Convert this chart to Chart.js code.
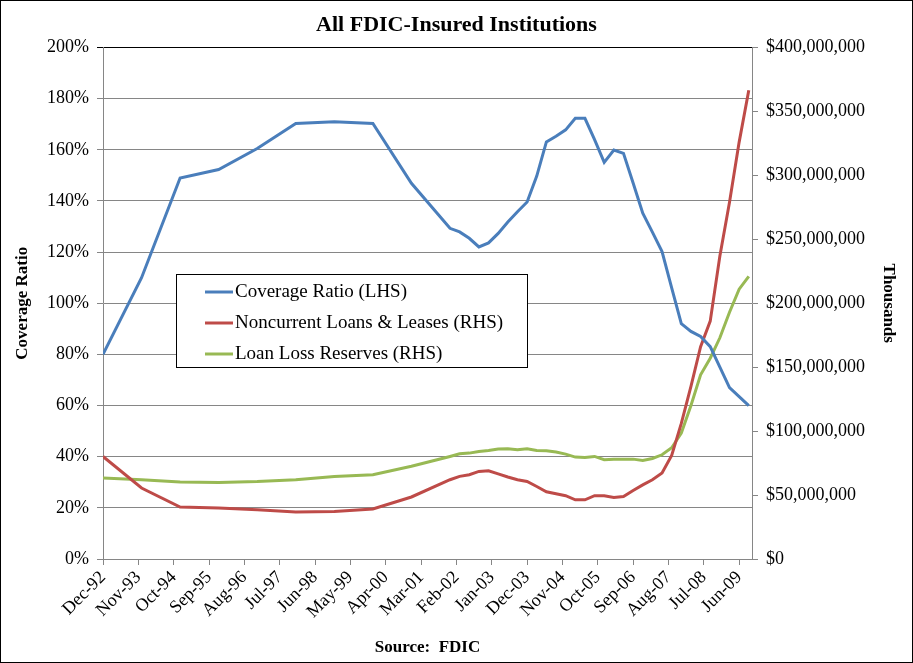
<!DOCTYPE html>
<html lang="en">
<head>
<meta charset="UTF-8">
<title>All FDIC-Insured Institutions</title>
<script src="https://cdn.jsdelivr.net/npm/chart.js"></script>
<style>
  body { margin: 0; background: #fff; }
  #wrap { width: 913px; height: 663px; position: relative; }
</style>
</head>
<body>
<div id="wrap"><canvas id="fdicChart"></canvas></div>
<script>
// period ends: year-end through 2001, quarter-end afterwards
const periods = [
  'Dec-92', 'Dec-93', 'Dec-94', 'Dec-95', 'Dec-96', 'Dec-97', 'Dec-98', 'Dec-99', 'Dec-00', 'Dec-01',
  'Mar-02', 'Jun-02', 'Sep-02', 'Dec-02',
  'Mar-03', 'Jun-03', 'Sep-03', 'Dec-03',
  'Mar-04', 'Jun-04', 'Sep-04', 'Dec-04',
  'Mar-05', 'Jun-05', 'Sep-05', 'Dec-05',
  'Mar-06', 'Jun-06', 'Sep-06', 'Dec-06',
  'Mar-07', 'Jun-07', 'Sep-07', 'Dec-07',
  'Mar-08', 'Jun-08', 'Sep-08', 'Dec-08',
  'Mar-09', 'Jun-09', 'Sep-09'
];

// coverage ratio, percent (left axis)
const coverageRatio = [
  80, 110, 149, 152.3, 160.5, 170.3, 171, 170.3, 146.9, 129.3,
  127.9, 125.4, 122, 123.6,
  127.3, 131.8, 135.8, 139.6,
  149.7, 163.1, 165.3, 167.8,
  172.3, 172.3, 164, 155.1,
  159.9, 158.6, 147, 135.2,
  127.8, 120.2, 106, 92,
  89, 87, 83, 75,
  67, 63.5, 60
];

// $ thousands (right axis)
const noncurrentLoans = [
  80.2e6, 55.5e6, 40.6e6, 39.8e6, 38.5e6, 36.7e6, 37.2e6, 39.1e6, 48.5e6, 62e6,
  64.6e6, 65.9e6, 68.5e6, 69e6,
  66.6e6, 64.1e6, 62e6, 60.6e6,
  56.7e6, 52.6e6, 51e6, 49.5e6,
  46.3e6, 46.3e6, 49.5e6, 49.5e6,
  48.1e6, 48.9e6, 53.6e6, 58e6,
  62e6, 67.2e6, 81e6, 106e6,
  135e6, 166e6, 186e6, 237e6,
  279e6, 326e6, 366.5e6
];

const loanLossReserves = [
  63.3e6, 62e6, 60.2e6, 59.9e6, 60.6e6, 62e6, 64.5e6, 65.9e6, 72.5e6, 80.2e6,
  82.3e6, 82.8e6, 84.1e6, 84.9e6,
  86e6, 86.2e6, 85.4e6, 86.2e6,
  84.9e6, 84.6e6, 83.6e6, 82e6,
  79.7e6, 79.4e6, 80.2e6, 77.6e6,
  78.1e6, 78.1e6, 78.1e6, 77e6,
  78.6e6, 81.5e6, 87e6, 98.5e6,
  120e6, 144e6, 157e6, 173e6,
  193e6, 211e6, 221e6
];

// date axis labels, one every 11 months starting Dec-92
const xTickLabels = [
  'Dec-92', 'Nov-93', 'Oct-94', 'Sep-95', 'Aug-96', 'Jul-97', 'Jun-98', 'May-99', 'Apr-00', 'Mar-01',
  'Feb-02', 'Jan-03', 'Dec-03', 'Nov-04', 'Oct-05', 'Sep-06', 'Aug-07', 'Jul-08', 'Jun-09'
];

const MONTHS = ['Jan', 'Feb', 'Mar', 'Apr', 'May', 'Jun', 'Jul', 'Aug', 'Sep', 'Oct', 'Nov', 'Dec'];

// months counted from Dec-92
function monthIndex(label) {
  const [mon, yy] = label.split('-');
  const year = Number(yy) > 50 ? 1900 + Number(yy) : 2000 + Number(yy);
  return (year - 1992) * 12 + MONTHS.indexOf(mon) - 11;
}

function points(values) {
  return values.map((v, i) => ({ x: monthIndex(periods[i]), y: v }));
}

const GRID = '#868686';
const SERIF = '"Liberation Serif", "Times New Roman", serif';
Chart.defaults.font.family = SERIF;
Chart.defaults.color = '#000';

const legendBox = {
  id: 'legendBox',
  afterDatasetsDraw(chart) {
    const ctx = chart.ctx;
    ctx.save();
    ctx.fillStyle = '#fff';
    ctx.fillRect(176.5, 274.5, 351, 93);
    ctx.strokeStyle = '#000';
    ctx.lineWidth = 1;
    ctx.strokeRect(176.5, 274.5, 351, 93);
    ctx.font = '19px ' + SERIF;
    ctx.textBaseline = 'middle';
    chart.data.datasets.forEach((ds, i) => {
      const y = 292 + i * 31;
      ctx.strokeStyle = ds.borderColor;
      ctx.lineWidth = 3;
      ctx.beginPath();
      ctx.moveTo(205, y);
      ctx.lineTo(233, y);
      ctx.stroke();
      ctx.fillStyle = '#000';
      ctx.fillText(ds.label, 235, y);
    });
    ctx.restore();
  }
};

const outerBorder = {
  id: 'outerBorder',
  afterDraw(chart) {
    const ctx = chart.ctx;
    ctx.save();
    ctx.strokeStyle = '#000';
    ctx.lineWidth = 1;
    ctx.strokeRect(0.5, 0.5, chart.width - 1, chart.height - 1);
    ctx.restore();
  }
};

new Chart(document.getElementById('fdicChart'), {
  type: 'line',
  data: {
    datasets: [
      {
        label: 'Coverage Ratio (LHS)',
        data: points(coverageRatio),
        borderColor: '#4A7EBB',
        yAxisID: 'y'
      },
      {
        label: 'Noncurrent Loans & Leases (RHS)',
        data: points(noncurrentLoans),
        borderColor: '#BE4B48',
        yAxisID: 'y1'
      },
      {
        label: 'Loan Loss Reserves (RHS)',
        data: points(loanLossReserves),
        borderColor: '#98B954',
        yAxisID: 'y1'
      }
    ]
  },
  options: {
    responsive: true,
    maintainAspectRatio: false,
    animation: false,
    layout: { padding: 0 },
    elements: {
      line: { borderWidth: 3, tension: 0 },
      point: { radius: 0, hoverRadius: 0 }
    },
    plugins: {
      legend: { display: false },
      tooltip: { enabled: false },
      title: {
        display: true,
        text: 'All FDIC-Insured Institutions',
        font: { size: 22, weight: 'bold' },
        padding: { top: 12.5, bottom: 8.6 }
      }
    },
    scales: {
      x: {
        type: 'linear',
        min: 0,
        max: 202,
        afterFit(scale) { scale.height = 104; },
        border: { color: GRID },
        grid: { drawOnChartArea: false, tickLength: 6, color: GRID },
        ticks: {
          stepSize: 11,
          includeBounds: false,
          autoSkip: false,
          minRotation: 45,
          maxRotation: 45,
          padding: 2,
          font: { size: 18 },
          callback: v => xTickLabels[v / 11] || ''
        },
        title: {
          display: true,
          text: 'Source:  FDIC',
          font: { size: 17, weight: 'bold' },
          padding: { top: 0, bottom: 5 }
        }
      },
      y: {
        position: 'left',
        min: 0,
        max: 200,
        afterFit(scale) { scale.width = 103; },
        border: { color: GRID },
        grid: {
          tickLength: 6,
          color: ctx => (ctx.tick && ctx.tick.value === 200 ? '#000' : GRID)
        },
        ticks: {
          stepSize: 20,
          padding: 8,
          font: { size: 18 },
          callback: v => v + '%'
        },
        title: {
          display: true,
          text: 'Coverage Ratio',
          font: { size: 17, weight: 'bold' },
          padding: { top: 12.3, bottom: 0 }
        }
      },
      y1: {
        position: 'right',
        min: 0,
        max: 400e6,
        afterFit(scale) { scale.width = 161; },
        border: { color: GRID },
        grid: { drawOnChartArea: false, tickLength: 6, color: GRID },
        ticks: {
          stepSize: 50e6,
          padding: 8,
          font: { size: 18 },
          callback: v => '$' + v.toLocaleString('en-US')
        },
        title: {
          display: true,
          text: 'Thousands',
          font: { size: 17, weight: 'bold' },
          padding: { top: 14.3, bottom: 0 }
        }
      }
    }
  },
  plugins: [legendBox, outerBorder]
});
</script>
</body>
</html>
